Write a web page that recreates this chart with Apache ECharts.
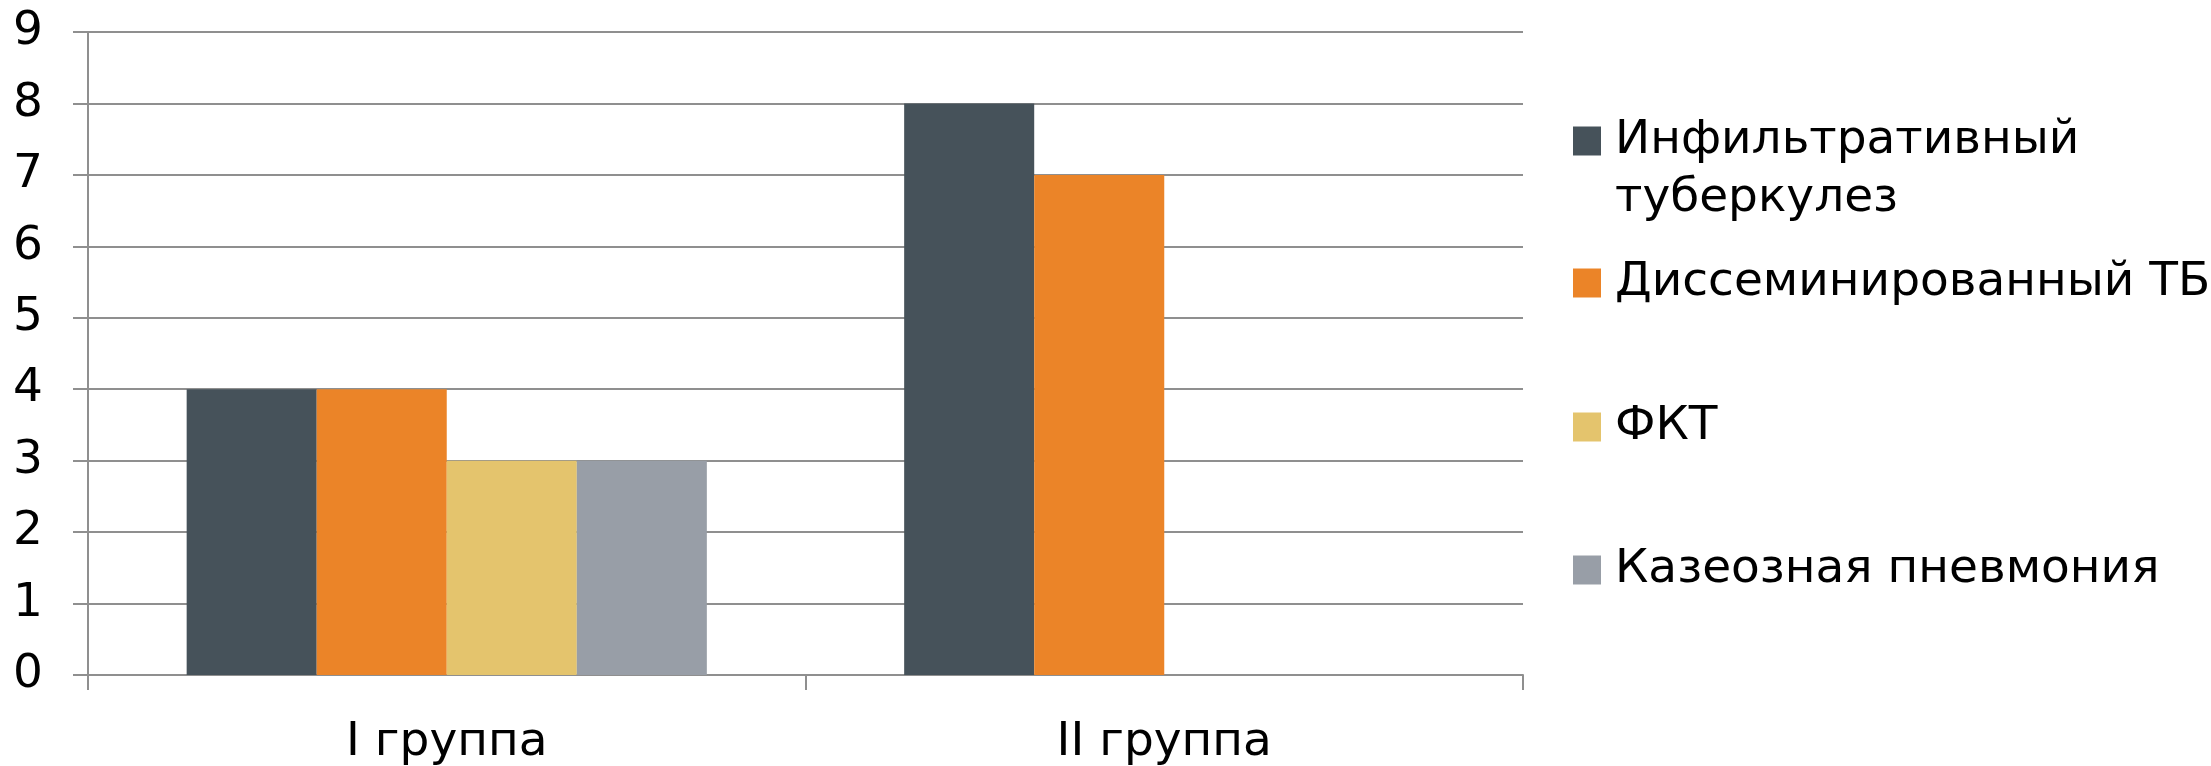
<!DOCTYPE html>
<html>
<head>
<meta charset="utf-8">
<script src="https://cdn.jsdelivr.net/npm/echarts@6/dist/echarts.min.js"></script>
<style>
  html, body { margin: 0; padding: 0; background: #ffffff; }
  #chart { width: 2211px; height: 766px; }
</style>
</head>
<body>
<div id="chart"></div>
<script>
// Groups along the x axis
const categories = ['I группа', 'II группа'];

// Series names and values per group
const seriesNames = [
  'Инфильтративный туберкулез',
  'Диссеминированный ТБ',
  'ФКТ',
  'Казеозная пневмония'
];
const infiltrative = [4, 8];
const disseminated = [4, 7];
const fkt = [3, 0];
const caseous = [3, 0];

// Y axis ticks
const yMin = 0;
const yMax = 9;
const yStep = 1;

const colors = ['#46525a', '#eb8428', '#e4c46d', '#989ea7'];
const values = [infiltrative, disseminated, fkt, caseous];

const FONT = 'DejaVu Sans';
const FS = 47;
const LH = 58;
const axisGray = '#8f8f8f';

const chart = echarts.init(document.getElementById('chart'), null, { renderer: 'canvas' });

// One legend block per entry so every entry sits at its own row.
// The first entry wraps onto two lines; a blank leading line keeps
// its marker level with the first line of text.
const legendTops = [54, 254, 398, 541];
const legends = seriesNames.map((name, i) => ({
  show: true,
  data: [name],
  orient: 'vertical',
  left: 1573,
  top: legendTops[i],
  padding: 0,
  itemWidth: 28,
  itemHeight: 29,
  icon: 'rect',
  selectedMode: false,
  formatter: i === 0 ? '{e| }\n{t|Инфильтративный}\n{t|туберкулез}' : '{name}',
  textStyle: {
    fontFamily: FONT,
    fontSize: FS,
    lineHeight: LH,
    color: '#000000',
    padding: [0, 0, 0, 9],
    rich: {
      e: { fontFamily: FONT, fontSize: FS, lineHeight: LH, height: LH },
      t: { fontFamily: FONT, fontSize: FS, lineHeight: LH, height: LH, color: '#000000' }
    }
  }
}));

const option = {
  animation: false,
  backgroundColor: '#ffffff',
  color: colors,
  grid: { left: 88, right: 688, top: 32, bottom: 89, containLabel: false },
  legend: legends,
  xAxis: {
    type: 'category',
    data: categories,
    boundaryGap: true,
    axisLine: { show: true, lineStyle: { color: axisGray, width: 2 } },
    axisTick: { show: true, length: 15, alignWithLabel: false, lineStyle: { color: axisGray, width: 2 } },
    axisLabel: { fontFamily: FONT, fontSize: FS, color: '#000000', margin: 44 },
    splitLine: { show: false }
  },
  yAxis: {
    type: 'value',
    min: yMin,
    max: yMax,
    interval: yStep,
    axisLine: { show: true, lineStyle: { color: axisGray, width: 2 } },
    axisTick: { show: true, length: 15, lineStyle: { color: axisGray, width: 2 } },
    axisLabel: { fontFamily: FONT, fontSize: FS, color: '#000000', margin: 45 },
    splitLine: { show: true, lineStyle: { color: axisGray, width: 2 } }
  },
  series: seriesNames.map((name, i) => ({
    name: name,
    type: 'bar',
    data: values[i],
    barGap: '0%',
    barCategoryGap: '27.5%',
    itemStyle: { color: colors[i] },
    emphasis: { disabled: true }
  }))
};

chart.setOption(option);
</script>
</body>
</html>
